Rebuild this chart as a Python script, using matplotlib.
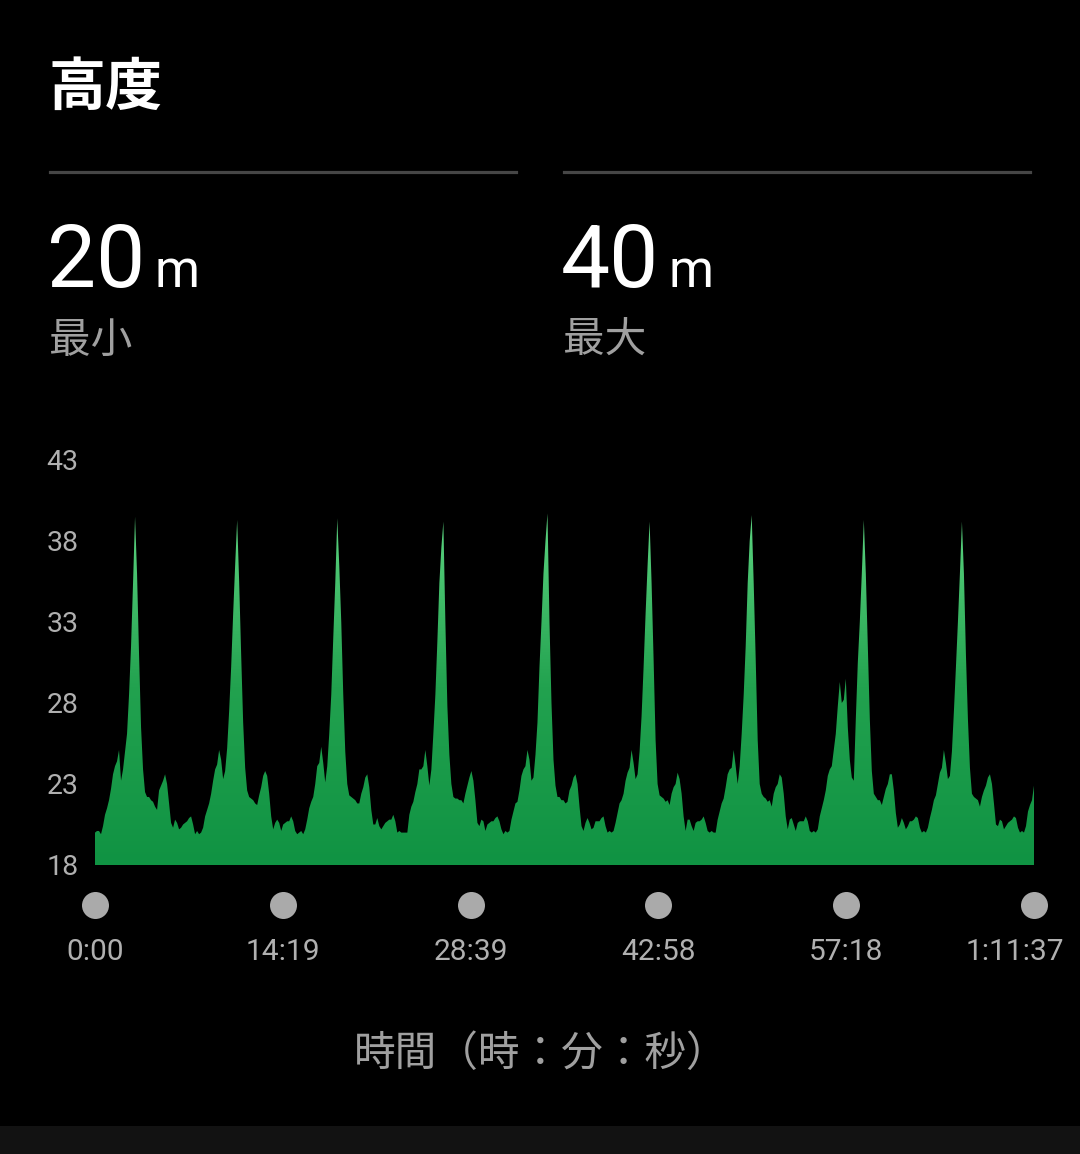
import numpy as np
import matplotlib
matplotlib.use("Agg")
import matplotlib.pyplot as plt
from matplotlib.colors import LinearSegmentedColormap
from matplotlib.patches import Rectangle
from matplotlib.lines import Line2D

# altitude samples (m), evenly spaced over the whole activity, one row block per lap
altitude_m = [
    # lap 1
    20.0, 20.1, 20.1, 19.9, 20.4, 21.1, 21.5, 22.0, 22.7, 23.6,
    24.1, 24.4, 25.1, 23.2, 23.9, 25.0, 26.1, 28.5, 31.5, 35.4,
    39.5, 36.0, 31.0, 26.5, 23.9, 22.5, 22.2, 22.2, 22.0, 21.9,
    21.6, 21.4, 22.6, 22.9, 23.2, 23.6, 23.0, 21.8, 20.6, 20.3,
    20.8, 20.6, 20.2, 20.3, 20.5, 20.6, 20.7, 20.9, 21.0, 20.5,
    19.9, 20.1, 19.9, 20.0,
    # lap 2
    20.3, 21.0, 21.4, 21.8, 22.4, 23.2, 23.9, 24.2, 25.1, 24.5,
    23.3, 23.8, 25.2, 27.5, 30.2, 33.5, 36.5, 39.3, 35.5, 31.0,
    26.8, 24.0, 22.6, 22.2, 22.1, 22.0, 21.8, 21.7, 22.3, 22.8,
    23.5, 23.8, 23.5, 22.4, 21.0, 20.2, 20.6, 20.8, 20.6, 20.1,
    20.5, 20.6, 20.7, 20.7, 21.0, 20.7, 20.1, 19.9, 20.0, 20.1,
    19.9, 20.2,
    # lap 3
    20.8, 21.5, 21.9, 22.2, 23.0, 24.1, 24.3, 25.3, 24.3, 23.1,
    24.1, 26.1, 28.5, 32.0, 35.4, 39.4, 36.5, 33.0, 28.5, 25.0,
    23.0, 22.3, 22.2, 22.1, 22.0, 21.8, 21.8, 22.4, 22.8, 23.4,
    23.6, 22.8, 21.4, 20.5, 20.5, 20.9, 20.4, 20.2, 20.4, 20.6,
    20.7, 20.8, 20.8, 21.1, 20.7, 20.0, 20.1, 20.0, 20.0, 20.0,
    # lap 4
    20.0, 21.1, 21.6, 21.9, 22.5, 23.0, 23.9, 23.9, 24.1, 25.1,
    24.1, 22.9, 23.9, 26.1, 28.5, 31.8, 35.4, 37.6, 39.2, 33.0,
    27.8, 24.8, 23.0, 22.2, 22.1, 22.1, 22.0, 22.0, 21.8, 22.4,
    22.9, 23.4, 23.8, 23.2, 22.0, 20.6, 20.4, 20.8, 20.7, 20.1,
    20.5, 20.6, 20.7, 20.7, 20.9, 21.0, 20.7, 20.2, 19.9, 20.1,
    20.0, 20.1,
    # lap 5
    20.8, 21.3, 21.8, 21.9, 22.6, 23.5, 23.9, 24.1, 25.1, 24.5,
    23.2, 23.4, 24.8, 26.8, 30.2, 33.0, 36.0, 38.0, 39.7, 33.0,
    28.0, 24.5, 22.9, 22.2, 22.2, 22.0, 22.0, 21.8, 21.9, 22.6,
    22.9, 23.4, 23.6, 23.0, 21.6, 20.4, 20.1, 20.6, 20.9, 20.6,
    20.2, 20.3, 20.7, 20.7, 20.7, 20.9, 21.0, 20.4, 20.0, 20.1,
    20.0, 20.1,
    # lap 6
    20.6, 21.2, 21.8, 22.0, 22.4, 23.2, 23.7, 24.0, 25.1, 24.3,
    23.3, 23.6, 25.0, 27.2, 30.2, 33.5, 36.5, 39.2, 35.4, 30.7,
    25.7, 23.0, 22.3, 22.2, 22.1, 21.9, 22.0, 21.7, 22.4, 22.8,
    23.0, 23.7, 23.3, 22.4, 21.0, 20.1, 20.8, 20.8, 20.4, 20.1,
    20.6, 20.7, 20.7, 20.8, 21.0, 20.6, 20.1, 20.0, 20.1, 20.0,
    # lap 7
    20.0, 20.8, 21.3, 21.8, 22.1, 22.8, 23.6, 23.9, 24.0, 25.1,
    24.1, 23.0, 24.1, 26.1, 28.5, 31.5, 35.4, 38.0, 39.6, 35.4,
    30.7, 25.7, 23.0, 22.4, 22.2, 22.1, 21.9, 22.0, 21.6, 22.4,
    22.8, 23.0, 23.6, 23.4, 22.4, 21.0, 20.2, 20.8, 20.9, 20.5,
    20.1, 20.6, 20.7, 20.7, 20.7, 21.0, 20.7, 20.1, 20.0, 20.1,
    20.0,
    # lap 8
    20.2, 21.0, 21.5, 22.0, 22.6, 23.5, 23.9, 24.1, 25.1, 26.1,
    27.8, 29.3, 28.0, 28.2, 29.5, 26.5, 24.5, 23.4, 23.2, 27.0,
    30.5, 33.0, 36.0, 39.3, 36.0, 31.5, 27.0, 23.8, 22.4, 22.2,
    22.0, 22.0, 21.7, 22.2, 22.7, 23.0, 23.6, 23.6, 22.6, 21.2,
    20.3, 20.5, 20.9, 20.6, 20.2, 20.4, 20.7, 20.7, 20.8, 21.0,
    20.9, 20.3, 20.0, 20.1, 20.0,
    # lap 9
    20.3, 20.9, 21.4, 22.0, 22.3, 23.0, 23.7, 24.0, 25.1, 24.3,
    23.3, 23.5, 25.0, 27.5, 30.2, 33.0, 36.0, 39.2, 36.0, 31.0,
    27.0, 24.0, 22.4, 22.2, 22.1, 22.0, 21.6, 22.2, 22.6, 22.9,
    23.4, 23.6, 23.0, 21.8, 20.5, 20.4, 20.8, 20.7, 20.2, 20.4,
    20.6, 20.7, 20.8, 21.0, 20.9, 20.3, 20.0, 20.1, 20.0, 20.4,
    21.3, 21.7, 22.0, 22.9,
]

total_seconds = 4297  # 1:11:37
x_ticks = [0, 859, 1719, 2578, 3438, 4297]
x_tick_labels = ["0:00", "14:19", "28:39", "42:58", "57:18", "1:11:37"]
y_ticks = [18, 23, 28, 33, 38, 43]

title = "高度"
stat_values = ["20", "40"]
stat_labels = ["最小", "最大"]
unit = "m"
x_axis_title = "時間（時：分：秒）"

cjk = ["Noto Sans CJK JP", "DejaVu Sans"]
num = ["Roboto", "DejaVu Sans"]

W, H = 1080, 1154
fig = plt.figure(figsize=(W / 100, H / 100), dpi=100, facecolor="black")


def fx(x):
    return x / W


def fy(y):
    return 1 - y / H


# header
fig.text(fx(49), fy(88), title, color="white", fontsize=41, fontweight="bold",
         family=cjk, ha="left", va="center")
for i, x0 in enumerate([50, 564]):
    fig.add_artist(Line2D([fx(x0), fx(x0 + 466)], [fy(172), fy(172)],
                          color="#464646", lw=2.3))
    fig.text(fx(x0 - 3), fy(287), stat_values[i], color="white", fontsize=63,
             family=num, ha="left", va="baseline")
    fig.text(fx(x0 + 105), fy(287), unit, color="white", fontsize=37,
             family=num, ha="left", va="baseline")
    fig.text(fx(x0 - 1), fy(341), stat_labels[i], color="#a0a0a0", fontsize=30,
             family=cjk, ha="left", va="center")

# chart
ax = fig.add_axes([fx(95), fy(865), (1034 - 95) / W, (865 - 460) / H])
ax.set_facecolor("black")
t_sec = np.linspace(0, total_seconds, len(altitude_m))
alt = np.array(altitude_m)

area = ax.fill_between(t_sec, alt, 18, color="none", lw=0)
cmap = LinearSegmentedColormap.from_list("grn", ["#109343", "#22a24f", "#5fd582"])
grad = np.linspace(0, 1, 256).reshape(-1, 1)
img = ax.imshow(grad, extent=[0, total_seconds, 18, 40], origin="lower",
                aspect="auto", cmap=cmap, interpolation="bilinear")
img.set_clip_path(area.get_paths()[0], transform=ax.transData)

ax.set_xlim(0, total_seconds)
ax.set_ylim(18, 43)
ax.axis("off")

for v in y_ticks:
    ax.text(-0.0515, v - 0.13, str(v), transform=ax.get_yaxis_transform(), color="#b0b0b0",
            fontsize=20.5, family=num, ha="left", va="center")

ax.scatter(x_ticks, [-0.0988] * len(x_ticks), s=27 ** 2 * 0.5184, color="#aaaaaa",
           transform=ax.get_xaxis_transform(), clip_on=False, zorder=3, lw=0)
for i, (v, lab) in enumerate(zip(x_ticks, x_tick_labels)):
    if i == len(x_ticks) - 1:
        ax.text(1.0315, -0.214, lab, transform=ax.transAxes, color="#b0b0b0",
                fontsize=21.5, family=num, ha="right", va="center")
    else:
        ax.text(v, -0.214, lab, transform=ax.get_xaxis_transform(), color="#b0b0b0",
                fontsize=21.5, family=num, ha="center", va="center")

fig.text(fx(541), fy(1055), x_axis_title, color="#a0a0a0", fontsize=30,
         family=cjk, ha="center", va="center")

# bottom strip
fig.add_artist(Rectangle((0, 0), 1, 28 / H, transform=fig.transFigure,
                         color="#121212", lw=0))

fig.savefig("out.png", dpi=100, facecolor="black")
